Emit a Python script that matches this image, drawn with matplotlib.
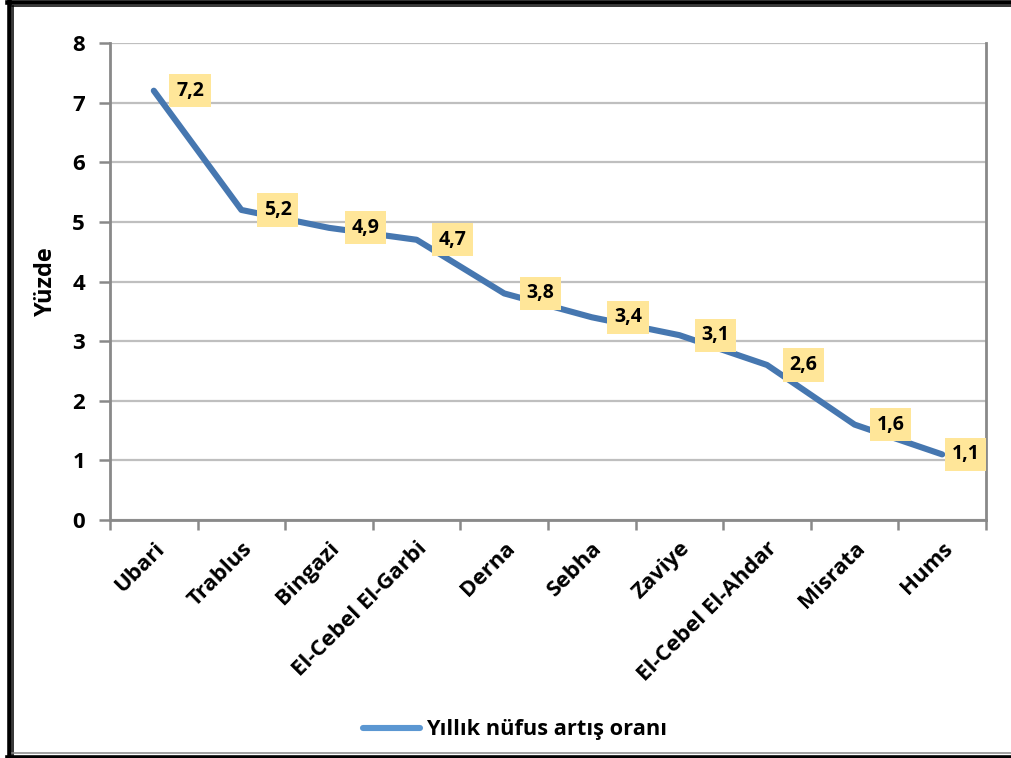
import matplotlib
matplotlib.use("Agg")
import matplotlib.pyplot as plt
from matplotlib.lines import Line2D

categories = ["Ubari", "Trablus", "Bingazi", "El-Cebel El-Garbi", "Derna",
              "Sebha", "Zaviye", "El-Cebel El-Ahdar", "Misrata", "Hums"]
values = [7.2, 5.2, 4.9, 4.7, 3.8, 3.4, 3.1, 2.6, 1.6, 1.1]
labels = ["7,2", "5,2", "4,9", "4,7", "3,8", "3,4", "3,1", "2,6", "1,6", "1,1"]
yticks = [0, 1, 2, 3, 4, 5, 6, 7, 8]
series_name = "Yıllık nüfus artış oranı"
ylabel = "Yüzde"

plt.rcParams['font.family'] = ['Open Sans', 'DejaVu Sans']
plt.rcParams['font.weight'] = 'bold'

W, H = 1011, 758
fig = plt.figure(figsize=(W / 100, H / 100), dpi=100)
fig.patch.set_facecolor('white')

def fx(px):
    return px / W

def fy(py):
    return 1 - py / H

ax = fig.add_axes([fx(110), fy(520), fx(986) - fx(110), fy(43) - fy(520)])

line_color = "#4677B0"
legend_color = "#5B97D2"
grid_color = "#BFBFBF"
spine_color = "#898989"

x = list(range(len(categories)))
ax.plot(x, values, color=line_color, lw=4.4, solid_capstyle='round',
        solid_joinstyle='round', zorder=3)

ax.set_xlim(-0.5, len(categories) - 0.5)
ax.set_ylim(0, 8)
ax.set_yticks(yticks)
ax.set_yticklabels([str(t) for t in yticks], fontsize=16, fontweight='bold')
ax.yaxis.grid(True, color=grid_color, lw=1.6)
ax.set_axisbelow(True)

ax.set_xticks(x)
ax.set_xticklabels(categories, rotation=45, ha='right', rotation_mode='anchor',
                   fontsize=16, fontweight='bold')
ax.set_xticks([i - 0.5 for i in range(len(categories) + 1)], minor=True)
ax.tick_params(axis='x', which='major', length=0, pad=13)
ax.tick_params(axis='x', which='minor', length=7, width=1.8, color=spine_color,
               direction='out')
ax.tick_params(axis='y', length=8, width=1.8, color=spine_color, pad=10)

for s in ['left', 'bottom', 'right']:
    ax.spines[s].set_color(spine_color)
    ax.spines[s].set_linewidth(2)
ax.spines['top'].set_visible(False)

ax.set_ylabel(ylabel, fontsize=17, fontweight='bold', labelpad=10)

for i, (v, lab) in enumerate(zip(values, labels)):
    off = 16 if i < len(values) - 1 else 7
    ax.annotate(lab, (i, v), xytext=(off, 0), textcoords='offset points',
                ha='left', va='center', fontsize=14, fontweight='bold',
                bbox=dict(boxstyle='square,pad=0.34', fc='#FFE699', ec='none'),
                zorder=4)

handle = Line2D([0], [0], color=legend_color, lw=4.4, solid_capstyle='round')
fig.legend([handle], [series_name], loc='center',
           bbox_to_anchor=(fx(515), fy(730)), frameon=False,
           prop={'size': 15.7, 'weight': 'bold'}, handlelength=2.6,
           handletextpad=0.25)

# frame
def hline(y, x0, x1, lw, color):
    fig.add_artist(Line2D([fx(x0), fx(x1)], [fy(y), fy(y)], lw=lw, color=color,
                          transform=fig.transFigure))

def vline(xp, y0, y1, lw, color):
    fig.add_artist(Line2D([fx(xp), fx(xp)], [fy(y0), fy(y1)], lw=lw, color=color,
                          transform=fig.transFigure))

hline(2.2, 7, W, 3.3, 'black')
hline(6.2, 12, W, 1.1, 'black')
vline(9, 0, H, 3.3, 'black')
vline(12.8, 6, H, 1.1, 'black')
hline(753, 12, W, 1.1, '#888888')
hline(756.5, 7, W, 2.6, 'black')

fig.savefig("out.png", dpi=100, facecolor='white')
